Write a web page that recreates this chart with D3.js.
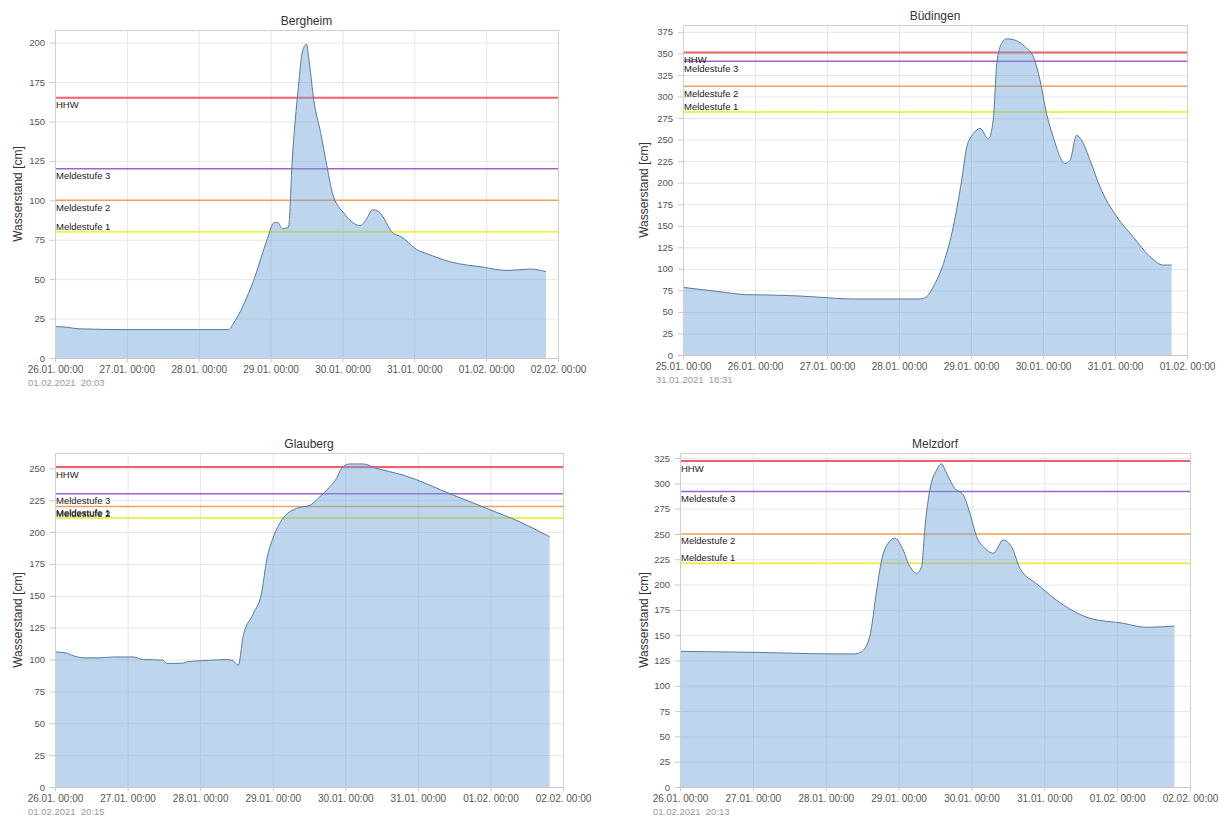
<!DOCTYPE html>
<html>
<head>
<meta charset="utf-8">
<script src="https://cdn.jsdelivr.net/npm/d3@7"></script>
<style>
	body{margin:0;background:#fff;}
	svg{font-family:"Liberation Sans",Arial,sans-serif;}
</style>
</head>
<body>
<svg id="chart" width="1224" height="817"></svg>
<script>
// ***************** DATA ********************
// hours after the first day on the x axis, water level in cm
var stations = ["Bergheim","Büdingen","Glauberg","Melzdorf"];
var startDays = [[2021,0,26],[2021,0,25],[2021,0,26],[2021,0,26]];
var stamps = ["01.02.2021  20:03","31.01.2021  18:31","01.02.2021  20:15","01.02.2021  20:13"];
var yMax = [208,383,262,330];

var bergheimHours = [0,4,8,24,48,58,59.6,66.3,71,73,74.3,76,78,79.2,81.3,82.6,84,84.7,86.4,88.7,91,92.6,96.4,102,104,106,108,113,115.5,121,124.4,132,143,151,159,164];
var bergheimLevels = [20,19.5,18.5,18,18,18,22,49,76,85.6,86,82,83,124,172,194,199,191,164,143,120,105,92,84,88,94,93,79,77,68.5,66,61,57.6,55.5,56.4,54.7];

var buedingenHours = [0,12.3,21.2,29,39,45.7,56.8,79,81.2,83.4,86.8,90.1,92.9,94.6,96.8,99,101.8,103.4,104.6,106.2,107.9,110.7,114,116.8,119,121.2,123.4,127.3,129,131.2,132.9,135.7,139,144.6,150.1,155.7,160.1,162.9];
var buedingenLevels = [78.5,73.4,70,69.6,68.4,67,65,65,67.6,79,106,149,203,241.6,257,263,251,272.6,338,361.6,367,365.4,357.6,346,319,280,253,222.4,226,255,249,226,195,160.4,137,114,104.4,104.4];

var glaubergHours = [0,3.9,5.5,9.9,14.9,19.3,25.9,29.2,35.7,36.9,41.3,44.6,52.3,56.8,58.9,60.6,62.2,65.6,68.3,70,72.2,74.9,79.9,84.3,87.6,90.9,93.1,94.8,97.5,101.9,106.3,115.1,131.7,142.7,153.7,163.6];
var glaubergLevels = [106,105,103.4,101.3,101.3,102,102,100,99.5,97,97,98.5,99.5,100,99,95.5,118,136,152,178,196,209,218.6,221,227.7,235.5,242,250,253.4,253.4,250,244.7,229,218.6,208,196.3];

var melzdorfHours = [0,13.2,26.3,39.5,49.4,57.6,59.8,62.5,64.8,66.4,68.6,70.8,73,75.7,77.9,79.6,80.7,82.3,84.5,86.1,87.8,90.5,93.3,95.5,97.7,100.4,103.2,106.5,109.2,112,117.4,126.2,135,145.9,153.6,162.9];
var melzdorfLevels = [134,133.5,133,132,131.5,131.5,133.7,148.6,194.7,224,241,245.8,237.5,218,211,218,257,293.6,313,319.3,310,295,288.6,270.5,247.4,236,231,244,237.5,216,201,180,166.7,161.8,157.8,159];

// threshold lines: HHW, Meldestufe 3, 2, 1
var levelNames = ["HHW","Meldestufe 3","Meldestufe 2","Meldestufe 1"];
var bergheimMarks = [165,120,100,80];
var buedingenMarks = [351,341,312,282];
var glaubergMarks = [251,230,220,211];
var melzdorfMarks = [322,292,250,221];

var allHours = [bergheimHours,buedingenHours,glaubergHours,melzdorfHours];
var allLevels = [bergheimLevels,buedingenLevels,glaubergLevels,melzdorfLevels];
var allMarks = [bergheimMarks,buedingenMarks,glaubergMarks,melzdorfMarks];

// ***************** LAYOUT ********************
var layout = [
	{left:55,right:558,top:30,bottom:358,yTitleX:18},
	{left:683,right:1187,top:25,bottom:355,yTitleX:644},
	{left:55,right:563,top:453,bottom:787,yTitleX:18},
	{left:680,right:1190,top:453,bottom:787,yTitleX:644}
];
var markColors = ["#f2606e","#9d62cf","#f2a258","#eeee55"];
var markWidths = [2,1.5,1.5,2];

var svg = d3.select("#chart");
var dayFormat = d3.timeFormat("%d.%m. %H:%M");

// ***************** ONE PANEL ********************
var drawPanel = function(i){
	var p = layout[i];
	var start = new Date(startDays[i][0],startDays[i][1],startDays[i][2]);
	var end = d3.timeDay.offset(start,7);
	var x = d3.scaleTime().domain([start,end]).range([p.left,p.right]);
	var y = d3.scaleLinear().domain([0,yMax[i]]).range([p.bottom,p.top]);
	var yTicks = d3.range(0,yMax[i],25);
	var g = svg.append("g");

	var points = allHours[i].map(function(h,k){
		return {t:new Date(start.getTime()+h*3600000),v:allLevels[i][k]};
	});

	// grid
	g.append("g")
		.attr("transform","translate("+p.left+",0)")
		.call(d3.axisLeft(y).tickValues(yTicks).tickSize(-(p.right-p.left)).tickFormat(""))
		.call(function(a){
			a.select(".domain").remove();
			a.selectAll("line").attr("stroke","#e6e6e6");
		});
	g.append("g")
		.attr("transform","translate(0,"+p.top+")")
		.call(d3.axisBottom(x).ticks(d3.timeDay.every(1)).tickSize(p.bottom-p.top).tickFormat(""))
		.call(function(a){
			a.select(".domain").remove();
			a.selectAll("line").attr("stroke","#e6e6e6");
		});

	// threshold lines (below the half transparent area)
	var marks = allMarks[i].map(function(v,k){ return {v:v,k:k}; });
	g.selectAll(".mark")
		.data(marks)
		.enter()
		.append("line")
		.attr("x1",p.left)
		.attr("x2",p.right)
		.attr("y1",function(d){ return y(d.v)})
		.attr("y2",function(d){ return y(d.v)})
		.attr("stroke",function(d){ return markColors[d.k]})
		.attr("stroke-width",function(d){ return markWidths[d.k]});

	// area + line
	var area = d3.area()
		.x(function(d){ return x(d.t)})
		.y0(y(0))
		.y1(function(d){ return y(d.v)})
		.curve(d3.curveMonotoneX);
	var line = d3.line()
		.x(function(d){ return x(d.t)})
		.y(function(d){ return y(d.v)})
		.curve(d3.curveMonotoneX);
	g.append("path")
		.datum(points)
		.attr("d",area)
		.attr("fill","#6fa3d8")
		.attr("fill-opacity",0.45);
	g.append("path")
		.datum(points)
		.attr("d",line)
		.attr("fill","none")
		.attr("stroke","#587a9f")
		.attr("stroke-width",1);

	// threshold labels, Meldestufe 1 sits above its line
	g.selectAll(".markLabel")
		.data(marks)
		.enter()
		.append("text")
		.attr("x",p.left+1)
		.attr("y",function(d){ return d.k===3 ? y(d.v)-2 : y(d.v)+10.5})
		.attr("font-size","9.5px")
		.attr("fill","#222")
		.text(function(d){ return levelNames[d.k]});

	// frame
	g.append("rect")
		.attr("x",p.left+0.5)
		.attr("y",p.top+0.5)
		.attr("width",p.right-p.left)
		.attr("height",p.bottom-p.top)
		.attr("fill","none")
		.attr("stroke","#d0d0d0");

	// axes
	g.append("g")
		.attr("transform","translate("+p.left+",0)")
		.call(d3.axisLeft(y).tickValues(yTicks).tickSize(5).tickPadding(5).tickFormat(d3.format("d")))
		.call(function(a){
			a.select(".domain").remove();
			a.selectAll("line").attr("stroke","#c8c8c8");
			a.selectAll("text").attr("fill","#555").attr("font-size","9.5px").attr("font-family",null);
		});
	g.append("g")
		.attr("transform","translate(0,"+p.bottom+")")
		.call(d3.axisBottom(x).ticks(d3.timeDay.every(1)).tickSize(4).tickPadding(4).tickFormat(dayFormat))
		.call(function(a){
			a.select(".domain").attr("stroke","#c8c8c8");
			a.selectAll("line").attr("stroke","#c8c8c8");
			a.selectAll("text").attr("fill","#555").attr("font-size","10px").attr("font-family",null);
		});

	// titles
	g.append("text")
		.attr("x",(p.left+p.right)/2)
		.attr("y",p.top-5)
		.attr("text-anchor","middle")
		.attr("font-size","12px")
		.attr("fill","#333")
		.text(stations[i]);
	g.append("text")
		.attr("transform","translate("+p.yTitleX+","+((p.top+p.bottom)/2)+") rotate(-90)")
		.attr("text-anchor","middle")
		.attr("dy","0.35em")
		.attr("font-size","12px")
		.attr("fill","#333")
		.text("Wasserstand [cm]");
	g.append("text")
		.attr("x",p.left-27)
		.attr("y",p.bottom+28)
		.attr("font-size","9.5px")
		.attr("fill","#9a9a9a")
		.style("white-space","pre")
		.text(stamps[i]);
};

for (var i = 0; i < stations.length; i++) {
	drawPanel(i);
}
</script>
</body>
</html>
